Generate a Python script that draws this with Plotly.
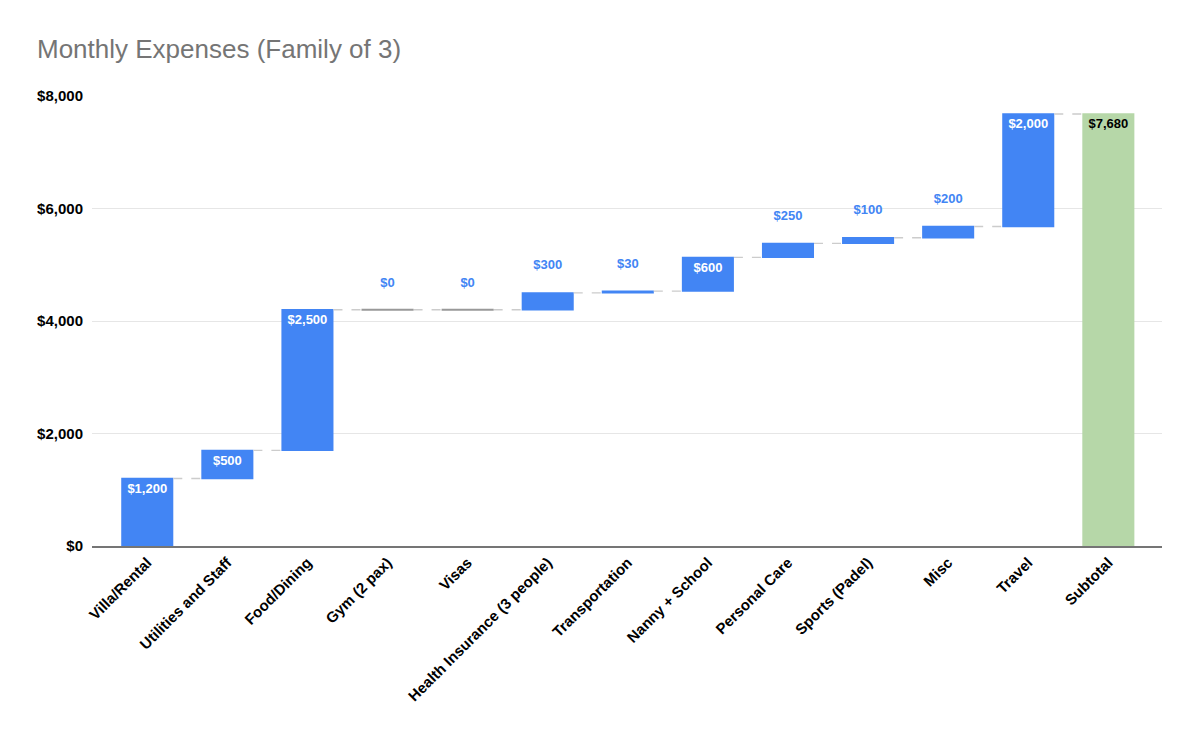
import plotly.graph_objects as go
import numpy as np

categories = ["Villa/Rental", "Utilities and Staff", "Food/Dining", "Gym (2 pax)", "Visas",
              "Health Insurance (3 people)", "Transportation", "Nanny + School", "Personal Care",
              "Sports (Padel)", "Misc", "Travel", "Subtotal"]
values = [1200, 500, 2500, 0, 0, 300, 30, 600, 250, 100, 200, 2000, 0]
measures = ["relative"] * 12 + ["total"]
inside = [True, True, True, False, False, False, False, True, False, False, False, True, True]
y_ticks = [0, 2000, 4000, 6000, 8000]
y_tick_labels = ["$0", "$2,000", "$4,000", "$6,000", "$8,000"]

total = sum(values[:12])
cum = np.cumsum(values[:12])
labels = [f"${v:,}" for v in values[:12]] + [f"${total:,}"]

BLUE = "#4285f4"
GREEN = "#b6d7a8"
font_family = "Liberation Sans, Arial, sans-serif"

text_colors = []
texts = []
for i, ins in enumerate(inside):
    if measures[i] == "total":
        text_colors.append("#000000")
    elif ins:
        text_colors.append("#ffffff")
    else:
        text_colors.append(BLUE)
    texts.append(labels[i] if ins else labels[i] + "<br> ")

fig = go.Figure()
fig.add_trace(go.Waterfall(
    x=list(range(len(categories))),
    y=values,
    measure=measures,
    text=texts,
    textposition=["inside" if ins else "outside" for ins in inside],
    insidetextanchor="end",
    textfont=dict(family=font_family, size=13, color=text_colors, weight="bold"),
    insidetextfont=dict(family=font_family, size=13, color=text_colors, weight="bold"),
    outsidetextfont=dict(family=font_family, size=13, color=text_colors, weight="bold"),
    increasing=dict(marker=dict(color=BLUE)),
    decreasing=dict(marker=dict(color=BLUE)),
    totals=dict(marker=dict(color=GREEN)),
    connector=dict(line=dict(color="#cccccc", width=1.3, dash="dash"), mode="between"),
    width=0.65,
    cliponaxis=False,
    constraintext="none",
    showlegend=False,
    hoverinfo="skip",
))

# zero-value bars drawn as thin grey lines
zx, zy = [], []
for i, v in enumerate(values[:12]):
    if v == 0:
        base = cum[i]
        zx += [i - 0.325, i + 0.325, None]
        zy += [base, base, None]
fig.add_trace(go.Scatter(x=zx, y=zy, mode="lines", line=dict(color="#999999", width=2),
                         showlegend=False, hoverinfo="skip"))

fig.update_layout(
    width=1200, height=742,
    paper_bgcolor="white", plot_bgcolor="white",
    margin=dict(l=84, r=46, t=88, b=204),
    title=dict(text="Monthly Expenses (Family of 3)", x=29/1200, xanchor="left",
               y=1 - 41/742, yanchor="middle",
               font=dict(family=font_family, size=26, color="#757575")),
    font=dict(family=font_family),
)
fig.update_xaxes(
    tickmode="array", tickvals=list(range(len(categories))), ticktext=categories,
    tickangle=-45, tickfont=dict(family=font_family, size=15, color="#000000", weight="bold"),
    range=[-0.69, 12.67], showgrid=False, showline=True, linecolor="#757575", linewidth=2,
    ticks="", zeroline=False,
)
fig.update_yaxes(
    range=[0, 8000], tickvals=y_ticks, ticktext=y_tick_labels,
    tickfont=dict(family=font_family, size=15, color="#000000", weight="bold"),
    showgrid=True, gridcolor="#e6e6e6", gridwidth=1, zeroline=False, ticks="",
    ticklabelstandoff=8,
)

fig.write_html("out.html")
